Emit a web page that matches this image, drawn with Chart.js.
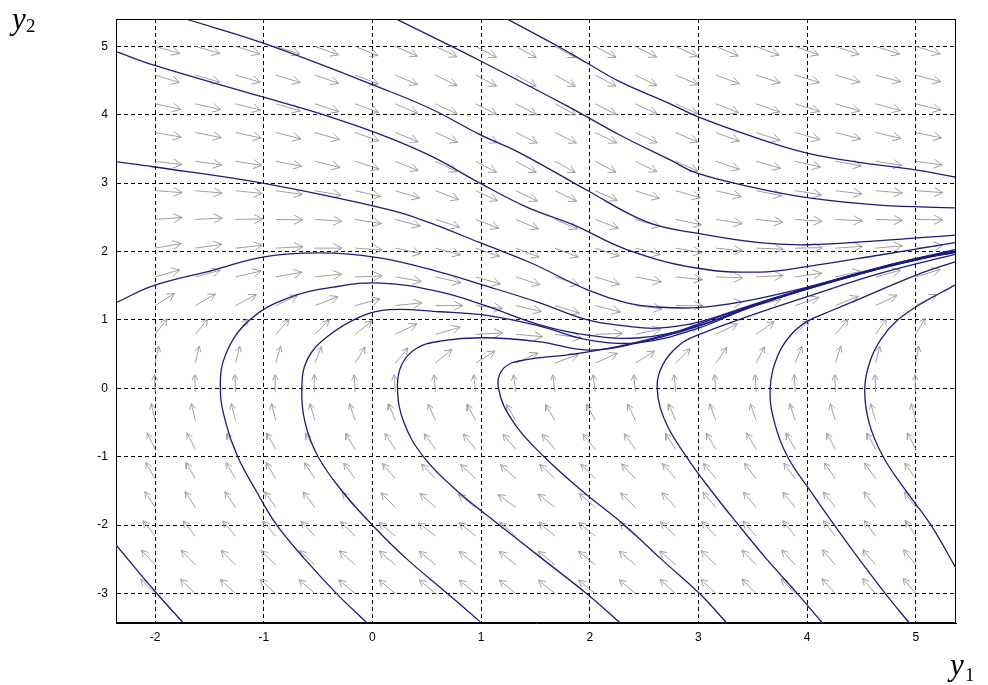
<!DOCTYPE html>
<html>
<head>
<meta charset="utf-8">
<title>Phase portrait</title>
<script src="https://cdn.jsdelivr.net/npm/chart.js@4.4.1/dist/chart.umd.min.js"></script>
<style>
  html, body { margin: 0; padding: 0; background: #fff; }
  #wrap { width: 988px; height: 685px; }
</style>
</head>
<body>
<div id="wrap"><canvas id="phase-chart" width="988" height="685"></canvas></div>
<script>
// axis ticks
const xTicks = [-2, -1, 0, 1, 2, 3, 4, 5];
const yTicks = [-3, -2, -1, 0, 1, 2, 3, 4, 5];

// direction field grid (arrow tails)
const arrowX = [-2.00, -1.63, -1.26, -0.89, -0.53, -0.16, 0.21, 0.58, 0.95, 1.32, 1.68, 2.05, 2.42, 2.79, 3.16, 3.53, 3.89, 4.26, 4.63, 5.00];
const arrowY = [-3.00, -2.58, -2.16, -1.74, -1.32, -0.89, -0.47, -0.05, 0.37, 0.79, 1.21, 1.63, 2.05, 2.47, 2.89, 3.32, 3.74, 4.16, 4.58, 5.00];

// arrow direction as seen on screen, degrees (0 = right, 90 = up), one row per arrowY
const arrowAngles = [
	[135, 136, 137, 138, 139, 140, 140, 140, 141, 141, 141, 141, 140, 138, 136, 134, 133, 132, 131, 130],
	[133, 134, 135, 136, 137, 138, 139, 140, 141, 141, 141, 141, 140, 139, 136, 134, 132, 131, 130, 129],
	[128, 129, 130, 131, 133, 135, 140, 142, 141, 140, 140, 140, 139, 137, 134, 131, 129, 128, 126, 124],
	[123, 123, 124, 125, 127, 130, 134, 138, 143, 144, 142, 139, 136, 133, 131, 130, 129, 128, 127, 126],
	[120, 120, 121, 121, 123, 126, 130, 134, 137, 138, 137, 135, 133, 131, 129, 127, 126, 125, 125, 125],
	[116, 117, 118, 119, 120, 121, 123, 126, 129, 131, 131, 129, 126, 123, 121, 120, 119, 118, 118, 117],
	[103, 103, 104, 104, 106, 108, 111, 114, 118, 121, 121, 118, 115, 112, 110, 109, 108, 107, 106, 105],
	[92, 92, 92, 92, 92, 93, 94, 95, 97, 98, 98, 97, 96, 95, 94, 93, 93, 92, 92, 92],
	[78, 77, 76, 74, 68, 58, 50, 40, 32, 25, 20, 24, 32, 45, 55, 63, 68, 72, 76, 80],
	[52, 51, 50, 48, 45, 38, 26, 16, 3, -5, -8, 2, 12, 20, 26, 35, 45, 50, 55, 60],
	[32, 30, 28, 25, 21, 15, 6, 0, -6, -13, -17, -14, -7, 0, 8, 14, 19, 22, 26, 28],
	[16, 15, 13, 10, 6, 2, -10, -13, -16, -18, -19, -17, -11, -6, -2, 3, 8, 12, 15, 17],
	[10, 8, 6, 3, 0, -4, -12, -15, -19, -21, -21, -18, -14, -10, -6, -2, 1, 4, 5, 6],
	[4, 3, 1, -1, -4, -9, -15, -18, -21, -23, -23, -21, -16, -12, -9, -6, -4, -3, -2, -1],
	[-4, -5, -6, -8, -10, -13, -17, -21, -25, -26, -26, -24, -18, -16, -13, -11, -9, -7, -5, -4],
	[-7, -8, -9, -11, -14, -18, -22, -26, -28, -29, -29, -28, -26, -24, -19, -16, -13, -10, -9, -8],
	[-10, -11, -12, -14, -16, -19, -22, -24, -25, -26, -26, -26, -25, -23, -20, -18, -16, -14, -13, -12],
	[-12, -13, -14, -16, -18, -20, -23, -25, -27, -28, -28, -27, -25, -24, -21, -19, -17, -16, -15, -14],
	[-17, -16, -16, -17, -19, -21, -23, -26, -28, -29, -29, -28, -26, -23, -20, -18, -17, -16, -15, -15],
	[-16, -16, -17, -18, -20, -22, -24, -26, -28, -29, -29, -28, -27, -25, -23, -21, -20, -19, -18, -17],
];

// trajectories, [y1, y2]
const curveBeta = [[1.25, 5.39], [1.73, 4.98], [1.97, 4.76], [2.28, 4.48], [2.74, 4.16], [2.98, 3.98], [3.50, 3.68], [4.00, 3.44], [4.50, 3.30], [5.01, 3.19], [5.36, 3.09]];
const curveAlpha = [[0.23, 5.39], [0.99, 4.79], [1.79, 4.13], [2.28, 3.70], [2.74, 3.34], [2.98, 3.15], [3.50, 2.94], [4.00, 2.79], [4.67, 2.68], [5.36, 2.64]];
const curveGamma = [[-1.72, 5.40], [-1.01, 5.05], [0.16, 4.34], [0.56, 4.07], [0.99, 3.71], [1.36, 3.44], [1.97, 2.90], [2.53, 2.43], [2.98, 2.27], [3.56, 2.13], [4.00, 2.10], [4.67, 2.16], [5.36, 2.24]];
const curveDelta = [[-2.35, 4.92], [-2.02, 4.73], [-1.01, 4.26], [-0.39, 3.97], [0.16, 3.66], [0.56, 3.38], [0.99, 3.00], [1.42, 2.65], [1.85, 2.39], [2.34, 2.03], [2.98, 1.76], [3.56, 1.70], [4.00, 1.78], [4.67, 1.95], [5.36, 2.13]];
const curveEps = [[-2.35, 3.31], [-2.02, 3.24], [-1.01, 3.00], [0.16, 2.61], [0.53, 2.42], [0.99, 2.13], [1.45, 1.84], [1.98, 1.44], [2.34, 1.25], [2.62, 1.19], [2.98, 1.18], [3.38, 1.26], [4.00, 1.48], [4.67, 1.77], [5.36, 2.03]];
const curveArch = [[-2.35, 1.26], [-2.02, 1.50], [-1.46, 1.73], [-1.01, 1.92], [-0.48, 1.98], [0.05, 1.91], [0.62, 1.70], [1.02, 1.51], [1.54, 1.25], [1.98, 1.00], [2.34, 0.91], [2.62, 0.88], [2.98, 0.96], [3.47, 1.21], [4.00, 1.47], [4.67, 1.77], [5.01, 1.90], [5.36, 2.01]];
const curveM1 = [[-0.05, -3.43], [-0.33, -3.00], [-0.62, -2.50], [-0.88, -2.00], [-1.07, -1.50], [-1.24, -1.00], [-1.35, -0.50], [-1.40, 0.00], [-1.35, 0.50], [-1.13, 1.00], [-0.78, 1.32], [-0.36, 1.48], [0.08, 1.54], [0.62, 1.41], [1.02, 1.22], [1.54, 0.93], [1.98, 0.78], [2.46, 0.74], [2.98, 0.91], [3.47, 1.19], [4.00, 1.46], [4.67, 1.76], [5.01, 1.89], [5.36, 2.00]];
const curveM2 = [[0.99, -3.41], [0.69, -3.00], [0.32, -2.50], [0.00, -2.00], [-0.28, -1.50], [-0.50, -1.00], [-0.62, -0.50], [-0.65, 0.00], [-0.60, 0.42], [-0.42, 0.75], [-0.11, 1.05], [0.16, 1.15], [0.62, 1.12], [1.08, 1.06], [1.54, 0.91], [1.98, 0.71], [2.46, 0.67], [2.98, 0.87], [3.47, 1.18], [4.00, 1.45], [4.67, 1.75], [5.01, 1.88], [5.36, 1.99]];
const curveM3 = [[2.28, -3.43], [1.97, -3.00], [1.57, -2.50], [1.17, -2.00], [0.78, -1.50], [0.47, -1.00], [0.29, -0.50], [0.23, 0.00], [0.27, 0.35], [0.40, 0.58], [0.62, 0.69], [1.02, 0.74], [1.54, 0.68], [1.98, 0.56], [2.40, 0.65], [2.98, 0.90], [3.47, 1.18], [4.00, 1.45], [4.67, 1.75], [5.01, 1.88], [5.36, 1.99]];
const curveK5 = [[3.26, -3.43], [3.01, -3.00], [2.66, -2.50], [2.32, -2.00], [1.93, -1.50], [1.58, -1.00], [1.30, -0.50], [1.16, 0.00], [1.21, 0.30], [1.42, 0.42], [1.85, 0.50], [2.34, 0.64], [2.76, 0.81], [2.98, 0.93], [3.47, 1.20], [4.00, 1.46], [4.67, 1.76], [5.01, 1.89], [5.36, 2.00]];
const curveK6 = [[4.14, -3.43], [3.91, -3.00], [3.63, -2.50], [3.37, -2.00], [3.12, -1.50], [2.89, -1.00], [2.70, -0.50], [2.62, 0.00], [2.67, 0.34], [2.83, 0.64], [2.98, 0.77], [3.38, 1.01], [4.00, 1.34], [4.67, 1.68], [5.36, 1.96]];
const curveK7 = [[4.94, -3.43], [4.72, -3.00], [4.48, -2.50], [4.25, -2.00], [4.03, -1.50], [3.82, -1.00], [3.70, -0.50], [3.66, 0.00], [3.73, 0.48], [3.85, 0.78], [4.00, 0.98], [4.20, 1.12], [4.50, 1.32], [5.01, 1.66], [5.36, 1.85]];
const curveK8 = [[5.37, -2.63], [5.14, -2.00], [4.91, -1.50], [4.70, -1.00], [4.57, -0.50], [4.53, 0.00], [4.58, 0.40], [4.68, 0.72], [4.82, 0.98], [5.01, 1.20], [5.36, 1.51]];
const curveK1 = [[-1.74, -3.43], [-2.00, -2.97], [-2.36, -2.29]];

const trajectories = [curveBeta, curveAlpha, curveGamma, curveDelta, curveEps, curveArch, curveM1, curveM2, curveM3, curveK5, curveK6, curveK7, curveK8, curveK1];

// axis window and layout
const X_MIN = -2.36, X_MAX = 5.37;
const Y_MIN = -3.43, Y_MAX = 5.40;
const PAD_TOP = 19, PAD_RIGHT = 32, Y_AXIS_W = 116, X_AXIS_H = 62;
const PLOT_W = 988 - PAD_RIGHT - Y_AXIS_W;
const PLOT_H = 685 - PAD_TOP - X_AXIS_H;
const ARROW_LEN = 0.25;   // data units, like quiver
const HEAD_LEN = 0.36;    // fraction of the arrow
const HEAD_ANGLE = 28;    // degrees

document.addEventListener('DOMContentLoaded', () => {
	phaseChart();
});

function buildArrows() {
	const sx = PLOT_W / (X_MAX - X_MIN);
	const sy = PLOT_H / (Y_MAX - Y_MIN);
	const pts = [];

	arrowY.forEach((y0, r) => {
		arrowX.forEach((x0, c) => {
			const a = arrowAngles[r][c] * Math.PI / 180;
			// unit direction in data space, then fixed data length
			let u = Math.cos(a) / sx;
			let v = Math.sin(a) / sy;
			const n = Math.hypot(u, v);
			u *= ARROW_LEN / n;
			v *= ARROW_LEN / n;
			const hx = x0 + u;
			const hy = y0 + v;

			// head barbs built on screen, back to data units
			const pxLen = Math.hypot(u * sx, v * sy) * HEAD_LEN;
			const back = Math.atan2(-v * sy, -u * sx);
			const b = HEAD_ANGLE * Math.PI / 180;
			const b1 = { x: hx + Math.cos(back + b) * pxLen / sx, y: hy + Math.sin(back + b) * pxLen / sy };
			const b2 = { x: hx + Math.cos(back - b) * pxLen / sx, y: hy + Math.sin(back - b) * pxLen / sy };

			pts.push({ x: x0, y: y0 }, { x: hx, y: hy }, { x: hx, y: null });
			pts.push(b1, { x: hx, y: hy }, b2, { x: hx, y: null });
		});
	});

	return pts;
}

const frameAndTitles = {
	id: 'frameAndTitles',
	beforeDatasetsDraw(chart) {
		const { ctx, chartArea: a } = chart;
		ctx.save();
		ctx.strokeStyle = '#000';
		ctx.lineWidth = 1;
		ctx.strokeRect(a.left + 0.5, a.top + 0.5, a.right - a.left - 1, a.bottom - a.top - 1);
		ctx.restore();
	},
	afterDraw(chart) {
		const { ctx, chartArea: a } = chart;
		ctx.save();
		ctx.fillStyle = '#000';
		ctx.textBaseline = 'alphabetic';

		ctx.font = 'italic 31px "Liberation Serif"';
		ctx.fillText('y', a.left - 104, 29);
		ctx.font = '19px "Liberation Serif"';
		ctx.fillText('2', a.left - 90, 32);

		ctx.font = 'italic 31px "Liberation Serif"';
		ctx.fillText('y', a.right - 6, 675);
		ctx.font = '19px "Liberation Serif"';
		ctx.fillText('1', a.right + 9, 681);
		ctx.restore();
	},
};

function phaseChart() {
	const ctx = document.getElementById('phase-chart');

	if (!ctx) {
		return;
	}

	const curveSets = trajectories.map((c) => ({
		data: c.map((p) => ({ x: p[0], y: p[1] })),
		showLine: true,
		borderColor: '#1b1b86',
		borderWidth: 1.3,
		pointRadius: 0,
		tension: 0.4,
		order: 1,
	}));

	const arrowSet = {
		data: buildArrows(),
		showLine: true,
		borderColor: '#a0a0a0',
		borderWidth: 1,
		pointRadius: 0,
		tension: 0,
		spanGaps: false,
		order: 2,
	};

	const tickFont = { family: '"Liberation Sans", Arial, sans-serif', size: 12 };

	new Chart(ctx, {
		type: 'scatter',
		data: {
			datasets: [...curveSets, arrowSet],
		},
		options: {
			responsive: false,
			animation: false,
			devicePixelRatio: 1,
			layout: {
				padding: { top: PAD_TOP, right: PAD_RIGHT, left: 0, bottom: 0 },
			},
			plugins: {
				legend: { display: false },
				tooltip: { enabled: false },
			},
			events: [],
			scales: {
				x: {
					type: 'linear',
					min: X_MIN,
					max: X_MAX,
					afterBuildTicks: (axis) => {
						axis.ticks = xTicks.map((v) => ({ value: v }));
					},
					afterFit: (axis) => {
						axis.height = X_AXIS_H;
					},
					grid: { color: '#000', lineWidth: 1, drawTicks: false },
					border: { display: true, color: '#000', width: 1, dash: [4, 3] },
					ticks: {
						autoSkip: false,
						maxRotation: 0,
						padding: 7,
						color: '#000',
						font: tickFont,
						callback: (v) => String(v),
					},
				},
				y: {
					type: 'linear',
					min: Y_MIN,
					max: Y_MAX,
					afterBuildTicks: (axis) => {
						axis.ticks = yTicks.map((v) => ({ value: v }));
					},
					afterFit: (axis) => {
						axis.width = Y_AXIS_W;
					},
					grid: { color: '#000', lineWidth: 1, drawTicks: false },
					border: { display: true, color: '#000', width: 1, dash: [4, 3] },
					ticks: {
						autoSkip: false,
						padding: 8,
						color: '#000',
						font: tickFont,
						callback: (v) => String(v),
					},
				},
			},
		},
		plugins: [frameAndTitles],
	});
}
</script>
</body>
</html>
